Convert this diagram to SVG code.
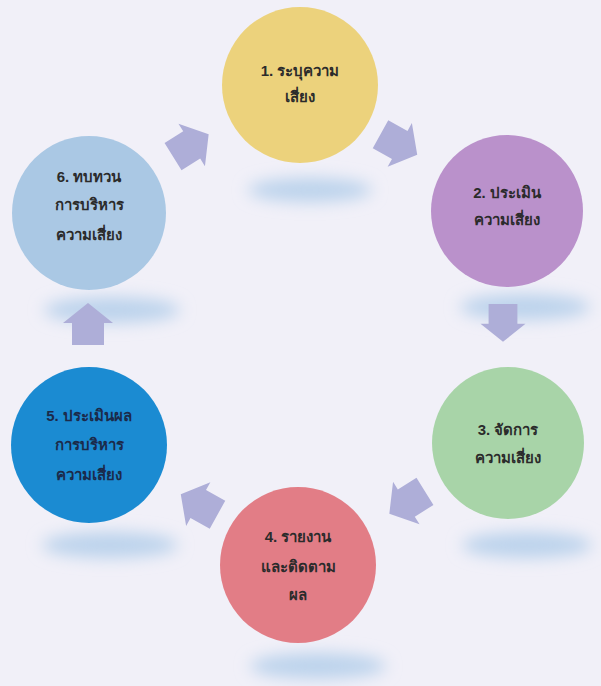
<svg xmlns="http://www.w3.org/2000/svg" xmlns:xlink="http://www.w3.org/1999/xlink" width="601" height="686" viewBox="0 0 601 686">
<defs>
<style>
.lbl{font-family:"Liberation Sans","Noto Sans","DejaVu Sans",sans-serif;font-size:15px;font-weight:bold;fill:#2b2b2b;text-anchor:middle}
.shadow{fill:#bcd3ec;filter:url(#blur)}
.arrow{fill:#aeaed8}
</style>
<filter id="blur" x="-50%" y="-150%" width="200%" height="400%"><feGaussianBlur stdDeviation="8"/></filter>
<path id="arr" d="M22,0 L2,-25 L2,-16 L-20,-16 L-20,16 L2,16 L2,25 Z"/>
</defs>
<rect width="601" height="686" fill="#f1f0f8"/>
<g id="shadows">
<ellipse class="shadow" cx="310" cy="190" rx="62" ry="12"/>
<ellipse class="shadow" cx="525" cy="307" rx="65" ry="13"/>
<ellipse class="shadow" cx="527" cy="545" rx="65" ry="13"/>
<ellipse class="shadow" cx="318" cy="666" rx="68" ry="13"/>
<ellipse class="shadow" cx="110" cy="545" rx="68" ry="13"/>
<ellipse class="shadow" cx="112" cy="310" rx="68" ry="13"/>
</g>
<g id="connectors" class="arrow">
<use xlink:href="#arr" transform="translate(190,146) rotate(-32)"/>
<use xlink:href="#arr" transform="translate(398,144) rotate(29)"/>
<use xlink:href="#arr" transform="translate(503,322) rotate(90) scale(0.9)"/>
<use xlink:href="#arr" transform="translate(408,502) rotate(148)"/>
<use xlink:href="#arr" transform="translate(200,505) rotate(-151)"/>
<use xlink:href="#arr" transform="translate(88,325) rotate(-90)"/>
</g>
<g id="n1">
<circle cx="300" cy="85" r="78" fill="#ecd27c"/>
<text class="lbl" x="300" y="76">1. ระบุความ</text>
<text class="lbl" x="300" y="102">เสี่ยง</text>
</g>
<g id="n2">
<circle cx="507" cy="211" r="76" fill="#ba91cb"/>
<text class="lbl" x="507" y="198">2. ประเมิน</text>
<text class="lbl" x="507" y="225">ความเสี่ยง</text>
</g>
<g id="n3">
<circle cx="508" cy="443" r="76" fill="#a8d4a8"/>
<text class="lbl" x="508" y="435">3. จัดการ</text>
<text class="lbl" x="508" y="463">ความเสี่ยง</text>
</g>
<g id="n4">
<circle cx="298" cy="565" r="78" fill="#e27d86"/>
<text class="lbl" x="298" y="542">4. รายงาน</text>
<text class="lbl" x="298" y="572">และติดตาม</text>
<text class="lbl" x="298" y="600">ผล</text>
</g>
<g id="n5">
<circle cx="89" cy="445" r="78" fill="#1b8bd2"/>
<text class="lbl" x="89" y="421" style="fill:#1b2a4a">5. ประเมินผล</text>
<text class="lbl" x="89" y="450" style="fill:#1b2a4a">การบริหาร</text>
<text class="lbl" x="89" y="480" style="fill:#1b2a4a">ความเสี่ยง</text>
</g>
<g id="n6">
<circle cx="89" cy="213" r="77" fill="#aac8e4"/>
<text class="lbl" x="89" y="182">6. ทบทวน</text>
<text class="lbl" x="89" y="210">การบริหาร</text>
<text class="lbl" x="89" y="240">ความเสี่ยง</text>
</g>
</svg>
